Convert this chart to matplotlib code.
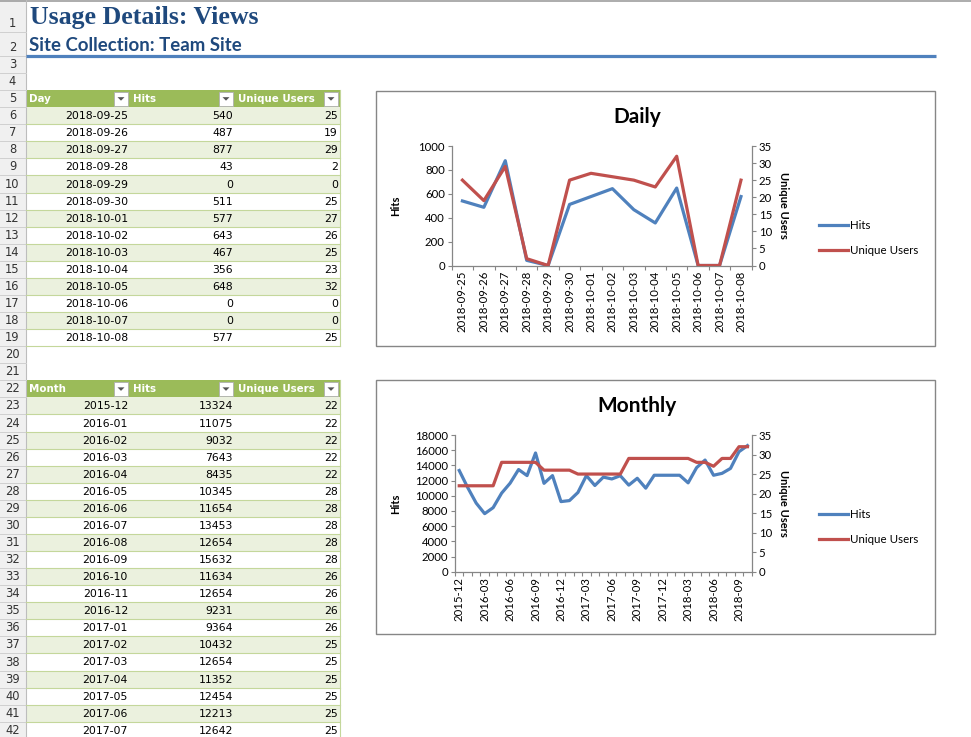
import numpy as np
import matplotlib
matplotlib.use('Agg')
import matplotlib.pyplot as plt
from matplotlib.patches import Rectangle, Polygon

plt.rcParams['font.family'] = ['Lato', 'DejaVu Sans']

# data
days = ['2018-09-25', '2018-09-26', '2018-09-27', '2018-09-28', '2018-09-29',
        '2018-09-30', '2018-10-01', '2018-10-02', '2018-10-03', '2018-10-04',
        '2018-10-05', '2018-10-06', '2018-10-07', '2018-10-08']
day_hits = [540, 487, 877, 43, 0, 511, 577, 643, 467, 356, 648, 0, 0, 577]
day_users = [25, 19, 29, 2, 0, 25, 27, 26, 25, 23, 32, 0, 0, 25]

months = ['2015-12', '2016-01', '2016-02', '2016-03', '2016-04', '2016-05',
          '2016-06', '2016-07', '2016-08', '2016-09', '2016-10', '2016-11',
          '2016-12', '2017-01', '2017-02', '2017-03', '2017-04', '2017-05',
          '2017-06', '2017-07', '2017-08', '2017-09', '2017-10', '2017-11',
          '2017-12', '2018-01', '2018-02', '2018-03', '2018-04', '2018-05',
          '2018-06', '2018-07', '2018-08', '2018-09', '2018-10']
month_hits = [13324, 11075, 9032, 7643, 8435, 10345, 11654, 13453, 12654, 15632,
              11634, 12654, 9231, 9364, 10432, 12654, 11352, 12454, 12213, 12642,
              11400, 12300, 11000, 12700, 12700, 12700, 12700, 11700, 13700, 14700,
              12700, 12950, 13600, 15800, 16600]
month_users = [22, 22, 22, 22, 22, 28, 28, 28, 28, 28, 26, 26, 26, 26, 25, 25, 25,
               25, 25, 25, 29, 29, 29, 29, 29, 29, 29, 29, 28, 28, 27, 29, 29, 32, 32]
month_rows_visible = 20

W, H = 971, 737
BLUE = '#4F81BD'
RED = '#C0504D'
GREEN = '#9BBB59'
BAND = '#EBF1DE'
GLINE = '#C4D79B'
GRAY = '#868686'

fig = plt.figure(figsize=(W / 100, H / 100), dpi=100)
bg = fig.add_axes([0, 0, 1, 1])
bg.set_xlim(0, W)
bg.set_ylim(H, 0)
bg.axis('off')


def row_top(r):
    if r == 1:
        return 0
    if r == 2:
        return 32
    return 56 + (r - 3) * 17.07


# sheet top line, row headers
bg.plot([0, W], [0.5, 0.5], color='#9E9E9E', lw=1.2)
bg.add_patch(Rectangle((0, 0), 25.5, H, facecolor='#F0F0F0', edgecolor='none'))
bg.plot([25.5, 25.5], [0, H], color='#BDBDBD', lw=0.8)
for r in range(1, 43):
    y0, y1 = row_top(r), row_top(r + 1)
    bg.plot([0, 25.5], [y1, y1], color='#D0D0D0', lw=0.7)
    bg.text(12.5, y1 - 8.5, str(r), ha='center', va='center', fontsize=8.3,
            color='#333333', family=['DejaVu Sans'])

# title block
bg.text(30, 17, 'Usage Details: Views', fontsize=18.6, fontweight='bold',
        family=['Liberation Serif'], color='#1F497D', va='center')
bg.text(29, 45, 'Site Collection: Team Site', fontsize=13.4, fontweight='bold',
        color='#1F497D', va='center')
bg.plot([26, 936], [56, 56], color=BLUE, lw=2.3, solid_capstyle='butt')

col_x = [26, 130, 235, 340]


def draw_table(header_row, headers, rows):
    y0, y1 = row_top(header_row), row_top(header_row + 1)
    bg.add_patch(Rectangle((col_x[0], y0), col_x[3] - col_x[0], y1 - y0,
                           facecolor=GREEN, edgecolor='none'))
    for i, h in enumerate(headers):
        bg.text(col_x[i] + 3, (y0 + y1) / 2 + 0.5, h, color='white', fontsize=7.4,
                fontweight='bold', va='center', family=['DejaVu Sans'])
        bx = col_x[i + 1] - 16
        bg.add_patch(Rectangle((bx, y0 + 1.5), 14, y1 - y0 - 3, facecolor='white',
                               edgecolor='#B0B0B0', lw=0.6))
        cx, cy = bx + 7, (y0 + y1) / 2
        bg.add_patch(Polygon([[cx - 3.5, cy - 1.5], [cx + 3.5, cy - 1.5], [cx, cy + 2]],
                             closed=True, facecolor='#555555', edgecolor='none'))
    for k, vals in enumerate(rows):
        r = header_row + 1 + k
        t, b = row_top(r), row_top(r + 1)
        face = BAND if k % 2 == 0 else 'white'
        bg.add_patch(Rectangle((col_x[0], t), col_x[3] - col_x[0], b - t,
                               facecolor=face, edgecolor='none'))
        bg.plot([col_x[0], col_x[3]], [b, b], color=GLINE, lw=0.8)
        for i, v in enumerate(vals):
            bg.text(col_x[i + 1] - 2, (t + b) / 2 + 0.5, str(v), ha='right', va='center',
                    fontsize=7.8, color='black', family=['DejaVu Sans'])
    bottom = row_top(header_row + 1 + len(rows))
    bg.plot([col_x[3], col_x[3]], [y0, min(bottom, H)], color=GLINE, lw=0.8)


draw_table(5, ['Day', 'Hits', 'Unique Users'], list(zip(days, day_hits, day_users)))
draw_table(22, ['Month', 'Hits', 'Unique Users'],
           list(zip(months[:month_rows_visible], month_hits[:month_rows_visible],
                    month_users[:month_rows_visible])))


def chart(box, plot, title, cats, hits, users, hmax, hstep, label_every, legend_y):
    bx0, by0, bx1, by1 = box
    bg.add_patch(Rectangle((bx0, by0), bx1 - bx0, by1 - by0, facecolor='white',
                           edgecolor=GRAY, lw=1.0))
    bg.text(637, by0 + 26, title, ha='center', va='center',
            fontsize=15, fontweight='bold', color='black')
    px0, py0, px1, py1 = plot
    ax = fig.add_axes([px0 / W, 1 - py1 / H, (px1 - px0) / W, (py1 - py0) / H])
    ax.patch.set_alpha(0)
    n = len(cats)
    x = np.arange(n)
    l1, = ax.plot(x, hits, color=BLUE, lw=2.3, label='Hits', solid_joinstyle='round')
    ax2 = ax.twinx()
    l2, = ax2.plot(x, users, color=RED, lw=2.3, label='Unique Users', solid_joinstyle='round')
    ax.set_xlim(-0.5, n - 0.5)
    ax.set_ylim(0, hmax)
    ax.set_yticks(np.arange(0, hmax + 1, hstep))
    ax2.set_ylim(0, 35)
    ax2.set_yticks(np.arange(0, 36, 5))
    ax.set_xticks(x[::label_every])
    ax.set_xticklabels(cats[::label_every], rotation=90)
    ax.set_xticks(np.arange(-0.5, n, 1), minor=True)
    for a in (ax, ax2):
        for s in a.spines.values():
            s.set_visible(False)
        a.tick_params(axis='both', labelsize=8.2, colors=GRAY, labelcolor='black',
                      length=3, width=0.8, pad=2)
    ax.spines['left'].set_visible(True)
    ax.spines['bottom'].set_visible(True)
    ax2.spines['right'].set_visible(True)
    for s in (ax.spines['left'], ax.spines['bottom'], ax2.spines['right']):
        s.set_color(GRAY)
        s.set_linewidth(0.9)
    ax.tick_params(axis='x', which='major', length=0, pad=4)
    ax.tick_params(axis='x', which='minor', length=3, color=GRAY, width=0.8)
    ax.set_ylabel('Hits', fontsize=8, fontweight='bold')
    ax.yaxis.set_label_coords((401 - px0) / (px1 - px0), 0.5)
    ax2.set_ylabel('Unique Users', fontsize=8, fontweight='bold', rotation=270)
    ax2.yaxis.set_label_coords((789 - px0) / (px1 - px0), 0.5)
    fig.legend([l1, l2], ['Hits', 'Unique Users'], loc='center left',
               bbox_to_anchor=(819 / W, 1 - legend_y / H), bbox_transform=fig.transFigure,
               frameon=False, fontsize=8.3, handlelength=2.5, handletextpad=0.15,
               labelspacing=1.15, borderpad=0, borderaxespad=0)


chart((376, 90.5, 935, 346), (451.7, 146, 751.7, 265.5), 'Daily',
      days, day_hits, day_users, 1000, 200, 1, 238)
chart((376, 379.5, 935, 634), (455, 435, 751.7, 571.7), 'Monthly',
      months, month_hits, month_users, 18000, 2000, 3, 527)

fig.savefig('out.png', dpi=100)
